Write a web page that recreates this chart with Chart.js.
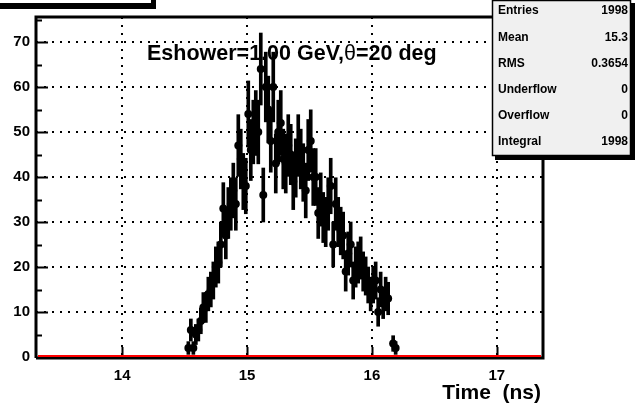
<!DOCTYPE html>
<html>
<head>
<meta charset="utf-8">
<script src="https://cdn.jsdelivr.net/npm/chart.js@4.4.1/dist/chart.umd.min.js"></script>
<style>
  html, body { margin: 0; padding: 0; background: #fff; }
  canvas { display: block; }
</style>
</head>
<body>
<canvas id="timeChart" width="635" height="407"></canvas>
<script>
// bin centres (ns) and counts
var timeBins = [14.51, 14.53, 14.55, 14.57, 14.59, 14.61, 14.63, 14.65, 14.67, 14.69,
  14.71, 14.73, 14.75, 14.77, 14.79, 14.81, 14.83, 14.85, 14.87, 14.89,
  14.91, 14.93, 14.95, 14.97, 14.99, 15.01, 15.03, 15.05, 15.07, 15.09,
  15.11, 15.13, 15.15, 15.17, 15.19, 15.21, 15.23, 15.25, 15.27, 15.29,
  15.31, 15.33, 15.35, 15.37, 15.39, 15.41, 15.43, 15.45, 15.47, 15.49,
  15.51, 15.53, 15.55, 15.57, 15.59, 15.61, 15.63, 15.65, 15.67, 15.69,
  15.71, 15.73, 15.75, 15.77, 15.79, 15.81, 15.83, 15.85, 15.87, 15.89,
  15.91, 15.93, 15.95, 15.97, 15.99, 16.01, 16.03, 16.05, 16.07, 16.09,
  16.11, 16.13, 16.15, 16.17, 16.19];
var counts = [0, 2, 6, 2, 5, 6, 8, 11, 11, 14,
  15, 17, 20, 21, 25, 33, 27, 32, 34, 37,
  34, 47, 44, 39, 38, 54, 46, 50, 52, 50,
  64, 36, 60, 55, 48, 60, 43, 50, 52, 44,
  43, 47, 45, 39, 42, 47, 44, 41, 37, 46,
  48, 40, 40, 32, 35, 31, 30, 34, 38, 25,
  34, 30, 28, 27, 19, 23, 25, 17, 20, 21,
  22, 19, 18, 16, 14, 16, 17, 10, 15, 12,
  14, 13, 0, 3, 2];
var xTicks = [14, 15, 16, 17];
var yTicks = [0, 10, 20, 30, 40, 50, 60, 70];
var statNames = ["Entries", "Mean", "RMS", "Underflow", "Overflow", "Integral"];
var statValues = ["1998", "15.3", "0.3654", "0", "0", "1998"];

var errData = [];
var pointData = [];
timeBins.forEach(function (t, i) {
  var n = counts[i];
  if (n <= 0) return;
  var e = Math.sqrt(n);
  errData.push({ x: t, y: [n - e, n + e] });
  pointData.push({ x: t, y: n });
});

var FONT = "'Liberation Sans', Arial, sans-serif";

var rootStyle = {
  id: "rootStyle",
  beforeDatasetsDraw: function (chart) {
    var c = chart.ctx;
    c.save();
    c.fillStyle = "#000";
    c.textBaseline = "alphabetic";
    var x = 147, y = 60;
    c.font = "bold 21.5px " + FONT;
    c.fillText("Eshower=1.00 GeV,", x, y);
    x += c.measureText("Eshower=1.00 GeV,").width;
    c.font = "21.5px " + FONT;
    c.fillText("θ", x, y);
    x += c.measureText("θ").width;
    c.font = "bold 21.5px " + FONT;
    c.fillText("=20 deg", x, y);
    c.restore();
  },
  afterDraw: function (chart) {
    var c = chart.ctx;
    var a = chart.chartArea;
    var ys = chart.scales.y, xs = chart.scales.x;
    c.save();
    // ticks inside the frame
    c.strokeStyle = "#000";
    c.lineWidth = 2;
    c.beginPath();
    for (var v = 5; v < ys.max; v += 5) {
      var py = Math.round(ys.getPixelForValue(v)) + 0.5;
      var len = (v % 10 === 0) ? 12 : 6;
      c.moveTo(a.left, py);
      c.lineTo(a.left + len, py);
    }
    xTicks.forEach(function (t) {
      var px = Math.round(xs.getPixelForValue(t)) + 0.5;
      c.moveTo(px, a.bottom);
      c.lineTo(px, a.bottom - 10);
    });
    c.stroke();
    // frame
    c.lineWidth = 3;
    c.beginPath();
    c.moveTo(a.left, a.bottom + 1);
    c.lineTo(a.left, a.top);
    c.lineTo(a.right, a.top);
    c.lineTo(a.right, a.bottom + 1);
    c.lineTo(a.left, a.bottom + 1);
    c.stroke();
    c.strokeStyle = "#ff0000";
    c.lineWidth = 2;
    c.beginPath();
    c.moveTo(a.left + 2, a.bottom - 1);
    c.lineTo(a.right - 2, a.bottom - 1);
    c.stroke();

    // x axis title
    c.fillStyle = "#000";
    c.font = "bold 21px " + FONT;
    c.textAlign = "right";
    c.fillText("Time  (ns)", a.right - 2, 399);

    // title box remnant, top left
    c.fillRect(0, 3, 156, 6);
    c.fillRect(151, 0, 5, 9);

    // stats box
    c.fillRect(495, 3, 140, 157);
    c.fillStyle = "#f0f0f0";
    c.fillRect(492, 0, 139, 156);
    c.strokeStyle = "#000";
    c.lineWidth = 1.5;
    c.strokeRect(492.5, 0.5, 138, 155);
    c.fillStyle = "#000";
    c.font = "bold 12px " + FONT;
    c.textBaseline = "middle";
    statNames.forEach(function (name, i) {
      var ry = 11 + i * 26.2;
      c.textAlign = "left";
      c.fillText(name, 498, ry);
      c.textAlign = "right";
      c.fillText(statValues[i], 628, ry);
    });
    c.restore();
  }
};

var chart = new Chart(document.getElementById("timeChart").getContext("2d"), {
  type: "bar",
  data: {
    datasets: [
      {
        type: "scatter",
        data: pointData,
        pointRadius: 4,
        pointBackgroundColor: "#000",
        pointBorderColor: "#000",
        pointBorderWidth: 0,
        order: 0
      },
      {
        type: "bar",
        data: errData,
        backgroundColor: "#000",
        borderWidth: 0,
        barThickness: 3,
        order: 1
      }
    ]
  },
  options: {
    responsive: false,
    animation: false,
    devicePixelRatio: 1,
    layout: { padding: { top: 17, right: 92, left: 0, bottom: 0 } },
    plugins: { legend: { display: false }, tooltip: { enabled: false } },
    scales: {
      x: {
        type: "linear",
        offset: false,
        min: 13.31,
        max: 17.37,
        afterBuildTicks: function (s) { s.ticks = xTicks.map(function (v) { return { value: v }; }); },
        afterFit: function (s) { s.height = 50; },
        grid: { offset: false, color: "#000", lineWidth: 2, drawTicks: false },
        border: { display: false, dash: [2, 6] },
        ticks: { padding: 10, color: "#000", font: { family: FONT, size: 15, weight: "bold" } }
      },
      y: {
        min: 0,
        max: 75.56,
        afterBuildTicks: function (s) { s.ticks = yTicks.map(function (v) { return { value: v }; }); },
        afterFit: function (s) { s.width = 36; },
        grid: {
          color: function (ctx) { return ctx.tick && ctx.tick.value === 0 ? "rgba(0,0,0,0)" : "#000"; },
          lineWidth: 2,
          drawTicks: false
        },
        border: { display: false, dash: [2, 6] },
        ticks: { padding: 6, color: "#000", font: { family: FONT, size: 15, weight: "bold" } }
      }
    }
  },
  plugins: [rootStyle]
});
</script>
</body>
</html>
